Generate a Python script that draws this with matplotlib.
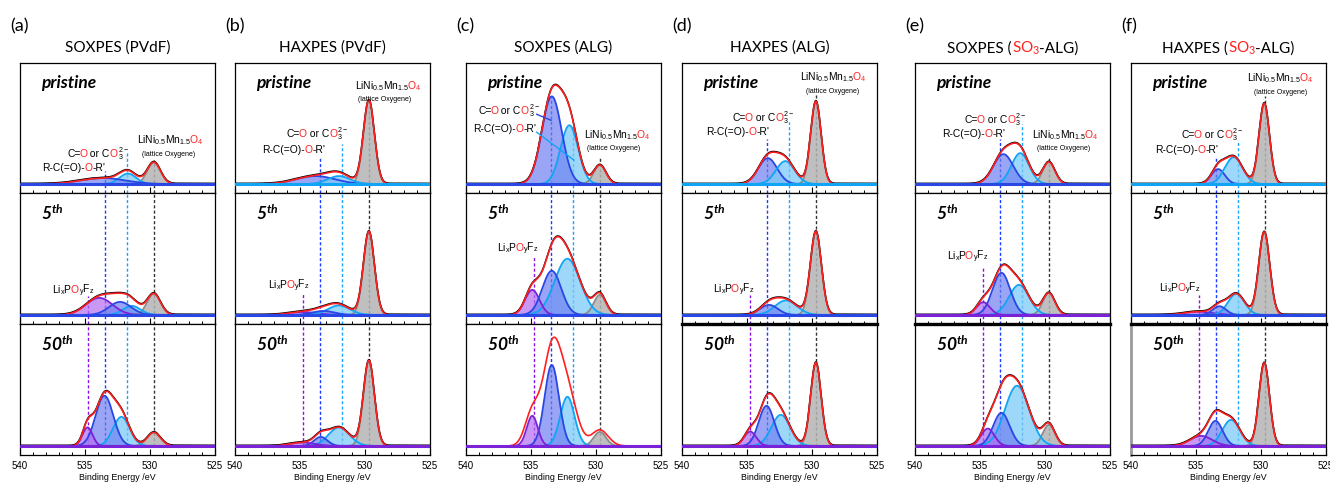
import numpy as np
import matplotlib
matplotlib.use("Agg")
import matplotlib.pyplot as plt
from matplotlib.offsetbox import TextArea, HPacker, AnnotationBbox, DrawingArea
from matplotlib.ticker import MultipleLocator

plt.rcParams['mathtext.default'] = 'regular'

# ---------------- data ----------------
panel_letters = ['(a)', '(b)', '(c)', '(d)', '(e)', '(f)']
technique = ['SOXPES', 'HAXPES', 'SOXPES', 'HAXPES', 'SOXPES', 'HAXPES']
binder = ['PVdF', 'PVdF', 'ALG', 'ALG', 'SO3-ALG', 'SO3-ALG']
cycle_labels = ['pristine', '5$^{th}$', '50$^{th}$']
energy_range = (540, 525)

# fitted components: (species, centre /eV, intensity, FWHM /eV), in drawing order
# species: lat = lattice O, carb = C=O / CO3, ester = R-C(=O)-O-R', lipof = LixPOyFz
a_pristine = [('lat', 529.7, 21.5, 1.2), ('carb', 531.7, 10.5, 1.5), ('ester', 533.6, 6.0, 4.0)]
a_5th = [('lat', 529.7, 21.0, 1.2), ('carb', 531.4, 9.0, 1.6), ('lipof', 533.9, 17.0, 2.4), ('ester', 532.3, 13.0, 2.0)]
a_50th = [('lat', 529.7, 13.5, 1.2), ('carb', 532.2, 29.0, 1.5), ('ester', 533.5, 50.0, 1.6), ('lipof', 534.8, 18.5, 0.9)]

b_pristine = [('lat', 529.7, 84.0, 1.0), ('ester', 533.8, 8.0, 3.5), ('carb', 532.0, 8.0, 2.0)]
b_5th = [('lat', 529.7, 83.0, 1.0), ('lipof', 534.8, 3.0, 2.5), ('carb', 532.0, 9.5, 2.0), ('ester', 533.2, 4.0, 2.0)]
b_50th = [('lat', 529.7, 85.0, 1.0), ('carb', 532.0, 18.5, 1.9), ('ester', 533.4, 9.0, 1.2), ('lipof', 534.8, 3.5, 2.2)]

c_pristine = [('lat', 529.7, 19.0, 1.1), ('carb', 532.05, 59.0, 1.6), ('ester', 533.4, 88.0, 1.8)]
c_5th = [('lat', 529.7, 20.0, 1.1), ('carb', 532.2, 56.0, 2.3), ('lipof', 534.9, 25.0, 1.3), ('ester', 533.4, 44.0, 1.7)]
c_50th = [('lat', 529.7, 14.0, 1.1), ('carb', 532.2, 49.0, 1.3), ('ester', 533.4, 80.7, 1.3), ('lipof', 534.9, 30.0, 1.0)]
c_50th_envelope = [('lat', 529.7, 16.0, 1.5), ('carb', 532.2, 52.0, 1.7), ('ester', 533.4, 92.0, 1.6), ('lipof', 534.9, 33.0, 1.3)]

d_pristine = [('lat', 529.7, 83.0, 0.95), ('ester', 533.4, 26.0, 1.7), ('carb', 532.05, 23.0, 1.7)]
d_5th = [('lat', 529.7, 83.0, 1.0), ('carb', 532.0, 14.5, 2.0), ('ester', 533.3, 10.0, 1.6)]
d_50th = [('lat', 529.7, 83.0, 0.95), ('carb', 532.4, 31.0, 1.7), ('ester', 533.5, 40.0, 1.4), ('lipof', 534.75, 14.3, 1.1)]

e_pristine = [('lat', 529.7, 22.0, 1.1), ('carb', 531.9, 31.0, 1.6), ('ester', 533.2, 30.0, 1.8)]
e_5th = [('lat', 529.7, 21.7, 1.1), ('carb', 532.0, 30.0, 1.8), ('ester', 533.35, 42.0, 1.6), ('lipof', 534.75, 12.7, 1.2)]
e_50th = [('lat', 529.7, 21.0, 1.1), ('carb', 532.15, 60.0, 2.2), ('ester', 533.35, 33.0, 1.5), ('lipof', 534.4, 17.3, 1.2)]

f_pristine = [('lat', 529.75, 81.0, 0.95), ('ester', 533.3, 15.0, 1.2), ('carb', 532.1, 27.0, 1.6)]
f_5th = [('lat', 529.75, 82.7, 1.0), ('lipof', 534.8, 3.3, 2.5), ('carb', 531.9, 21.0, 1.5), ('ester', 533.2, 8.7, 1.2)]
f_50th = [('lat', 529.75, 82.7, 0.95), ('carb', 532.3, 26.0, 1.6), ('ester', 533.5, 25.0, 1.3), ('lipof', 534.6, 10.0, 2.0)]

panel_rows = [
    [a_pristine, a_5th, a_50th],
    [b_pristine, b_5th, b_50th],
    [c_pristine, c_5th, c_50th],
    [d_pristine, d_5th, d_50th],
    [e_pristine, e_5th, e_50th],
    [f_pristine, f_5th, f_50th],
]
envelope_override = {(2, 2): c_50th_envelope}
measured_absent = {(2, 2)}

# reference energies of the guide lines
guide_energy = {'lat': 529.7, 'carb': 531.75, 'ester': 533.43, 'lipof': 534.78}

# ---------------- styles / layout ----------------
fill_col = {'lat': '#b4b4b4', 'carb': '#7ccaf8', 'ester': '#6f80f2', 'lipof': '#b36df2'}
line_col = {'lat': '#8a8a8a', 'carb': '#10a4f4', 'ester': '#2847e4', 'lipof': '#7a22d8'}
guide_col = {'lat': '#333333', 'carb': '#1aa2ff', 'ester': '#1a3cff', 'lipof': '#8a10e8'}
fill_alpha = {'lat': 0.85, 'carb': 0.75, 'ester': 0.7, 'lipof': 0.7}

W, H = 1330, 486
ax_left_px = [20, 235, 466, 682, 915, 1131]
ax_w_px = 195
row_edges_px = [63, 193, 324, 455]
YLIM = (-9, 121.5)

# guide line tops (row-1 units; lipof in row-2 units)
guide_top = [
    {'lat': 24, 'carb': 32, 'ester': 13, 'lipof': 19},
    {'lat': 78, 'carb': 40, 'ester': 26, 'lipof': 22},
    {'lat': 26, 'carb': 60, 'ester': 87, 'lipof': 58},
    {'lat': 90, 'carb': 62, 'ester': 45, 'lipof': 20},
    {'lat': 26, 'carb': 60, 'ester': 45, 'lipof': 47},
    {'lat': 88, 'carb': 44, 'ester': 27, 'lipof': 20},
]
# label positions (x /eV, y units)
lat_label = [(528.5, 44), (528.2, 98), (528.4, 49), (528.4, 107), (528.5, 49), (528.55, 106)]
lat_sub = [(528.6, 30), (528.5, 84.5), (528.65, 35.5), (528.4, 93), (528.55, 35.5), (528.5, 92)]
carb_label = [(534.0, 31), (533.65, 51), (536.68, 74), (533.72, 67), (533.8, 65), (533.73, 50)]
ester_label = [(535.85, 16), (535.45, 34), (537.0, 55), (535.73, 52), (535.5, 50), (535.7, 34)]
lipof_label = [(535.9, 24), (535.85, 29), (536.0, 66), (536.05, 25), (535.95, 58), (536.25, 26)]

RED = '#ff2020'
ANN_FONT = 'Liberation Sans'
ANN_SIZE = 7.4


def gaussian_sum(x, comps):
    y = np.zeros_like(x)
    for _, c, h, w in comps:
        y = y + h * np.exp(-4 * np.log(2) * (x - c) ** 2 / w ** 2)
    return y


def rich_text(ax, x, y, pieces, size=ANN_SIZE, family=ANN_FONT, align=(0.5, 0.5),
              xycoords='data'):
    boxes = []
    for t, c in pieces:
        if c is None:          # kerning spacer (points)
            boxes.append(DrawingArea(t, 0.01))
        else:
            boxes.append(TextArea(t, textprops=dict(color=c, fontsize=size, family=family)))
    pack = HPacker(children=boxes, align='baseline', pad=0, sep=0)
    ab = AnnotationBbox(pack, (x, y), xycoords=xycoords, frameon=False,
                        box_alignment=align, pad=0, annotation_clip=False)
    ax.add_artist(ab)
    return ab


fig = plt.figure(figsize=(W / 100, H / 100), dpi=100)
x = np.linspace(energy_range[1], energy_range[0], 1501)

for p in range(6):
    axes = []
    for r in range(3):
        top, bot = row_edges_px[r], row_edges_px[r + 1]
        ax = fig.add_axes([ax_left_px[p] / W, 1 - bot / H, ax_w_px / W, (bot - top) / H])
        axes.append(ax)
        comps = panel_rows[p][r]
        # guide lines (behind)
        for sp in ['lat', 'carb', 'ester', 'lipof']:
            if sp == 'lipof' and r == 0:
                continue
            if r == 0:
                y0, y1 = YLIM[0], guide_top[p][sp]
            elif r == 1:
                y0 = YLIM[0]
                y1 = guide_top[p][sp] if sp == 'lipof' else YLIM[1]
            else:
                y0, y1 = 0, YLIM[1]
            ax.plot([guide_energy[sp]] * 2, [y0, y1], ls=(0, (2.2, 1.6)), lw=1.0,
                    color=guide_col[sp], zorder=1)
        # components
        for comp in comps:
            sp = comp[0]
            yc = gaussian_sum(x, [comp])
            ax.fill_between(x, 0, yc, color=fill_col[sp], alpha=fill_alpha[sp], lw=0, zorder=2)
        for comp in comps:
            sp = comp[0]
            yc = gaussian_sum(x, [comp])
            ax.plot(x, yc, color=line_col[sp], lw=1.3, zorder=3)
        env = gaussian_sum(x, envelope_override.get((p, r), comps))
        if (p, r) not in measured_absent:
            ax.plot(x, env + 0.7, color='black', lw=1.1, zorder=4)
        ax.plot(x, env, color=RED, lw=1.2, zorder=5)
        # baseline of the last-drawn component stays on top
        last = comps[-1][0]
        ax.axhline(0, color=line_col[last], lw=2.2, zorder=5.5)

        ax.set_xlim(*energy_range)
        ax.set_ylim(*YLIM)
        ax.set_yticks([])
        ax.xaxis.set_major_locator(MultipleLocator(5))
        ax.xaxis.set_minor_locator(MultipleLocator(1))
        ax.tick_params(axis='x', which='major', direction='in', length=4, width=0.8,
                       labelsize=7, pad=4)
        ax.tick_params(axis='x', which='minor', direction='in', length=2.2, width=0.7)
        for s in ax.spines.values():
            s.set_linewidth(0.9)
        if r == 2 and p >= 3:
            ax.spines['top'].set_linewidth(2.4)
        if r == 2 and p == 5:
            ax.spines['left'].set_color('#9a9a9a')
            ax.spines['left'].set_linewidth(2.0)
        if r < 2:
            ax.tick_params(axis='x', labelbottom=False)
        else:
            for lab in ax.get_xticklabels():
                lab.set_family('Liberation Sans')
            ax.set_xlabel('Binding Energy /eV', fontsize=6.4, family='Liberation Sans',
                          labelpad=2)
        ax.text(538.35, 101, cycle_labels[r], fontsize=12.5, fontweight='bold',
                fontstyle='italic', family='Lato', ha='left', va='center', zorder=6)

    a0, a1 = axes[0], axes[1]
    # annotations
    rich_text(a0, *lat_label[p], [(r'LiNi$_{0.5}$Mn$_{1.5}$', 'black'), (-1.5, None),
                                  ('O$_4$', RED)])
    a0.text(*lat_sub[p], '(lattice Oxygene)', fontsize=5, family=ANN_FONT,
            ha='center', va='center', zorder=6)
    rich_text(a0, *carb_label[p], [('C=', 'black'), (-0.8, None), ('O', RED),
                                   (' or C', 'black'), ('O', RED), ('$_3^{2-}$', 'black')])
    rich_text(a0, *ester_label[p], [('R-C(=O)-', 'black'), ('O', RED), ("-R'", 'black')])
    rich_text(a1, *lipof_label[p], [(r'Li$_x$P', 'black'), (-1.6, None), ('O', RED),
                                    ('$_y$F$_z$', 'black')])
    if p == 2:
        a0.plot([534.56, 533.46], [70, 64], color=line_col['ester'], lw=1.0, zorder=6)
        a0.plot([534.56, 531.7], [52, 24], color=line_col['carb'], lw=1.0, zorder=6)

    # panel letter & title
    cx = (ax_left_px[p] + ax_w_px / 2) / W
    fig.text((ax_left_px[p] - 10) / W, 1 - 26 / H, panel_letters[p], fontsize=13,
             family='Lato', ha='left', va='center')
    if binder[p] == 'SO3-ALG':
        rich_text(fig, cx, 1 - 48 / H,
                  [(technique[p] + ' (', 'black'), ('SO$_3$', RED), (-1.0, None),
                   ('-ALG)', 'black')],
                  size=11, family='Lato', xycoords='figure fraction')
    else:
        fig.text(cx, 1 - 48 / H, f'{technique[p]} ({binder[p]})', fontsize=11,
                 family='Lato', ha='center', va='center')

fig.savefig('out.png', dpi=100)
